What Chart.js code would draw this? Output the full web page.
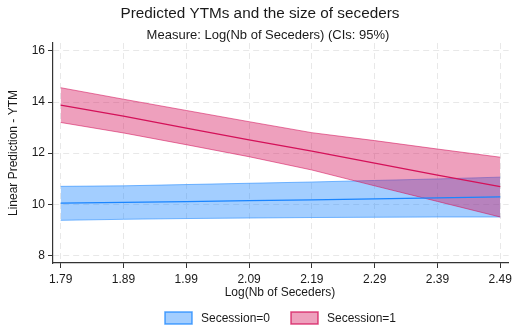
<!DOCTYPE html>
<html>
<head>
<meta charset="utf-8">
<script src="https://cdn.jsdelivr.net/npm/chart.js@4"></script>
<style>
  html, body { margin: 0; padding: 0; background: #fff; }
  #wrap { width: 516px; height: 333px; }
</style>
</head>
<body>
<div id="wrap"><canvas id="chart" width="516" height="333"></canvas></div>
<script>
// Data
const xValues = [1.79, 1.89, 1.99, 2.09, 2.19, 2.29, 2.39, 2.49];
const xTickLabels = ['1.79', '1.89', '1.99', '2.09', '2.19', '2.29', '2.39', '2.49'];
const yTicks = [8, 10, 12, 14, 16];

// Secession=0
const sec0Fit = [10.04, 10.07, 10.10, 10.14, 10.17, 10.21, 10.25, 10.29];
const sec0Upper = [10.70, 10.72, 10.77, 10.82, 10.87, 10.93, 10.99, 11.06];
const sec0Lower = [9.37, 9.41, 9.44, 9.46, 9.48, 9.49, 9.50, 9.50];

// Secession=1
const sec1Fit = [13.88, 13.45, 12.98, 12.52, 12.08, 11.61, 11.14, 10.69];
const sec1Upper = [14.56, 14.11, 13.67, 13.23, 12.80, 12.49, 12.16, 11.84];
const sec1Lower = [13.20, 12.79, 12.33, 11.86, 11.34, 10.72, 10.11, 9.50];

const legendLabels = ['Secession=0', 'Secession=1'];

const BLUE = 'rgb(26, 133, 255)';
const RED = 'rgb(212, 17, 89)';
const FONT = '"Liberation Sans", Arial, Helvetica, sans-serif';
const TEXT = '#1a1a1a';

function pts(ys) {
  return xValues.map((x, i) => ({ x: x, y: ys[i] }));
}

// Titles, axis titles and legend
const textPlugin = {
  id: 'stataText',
  afterDraw(chart) {
    const ctx = chart.ctx;
    ctx.save();
    ctx.fillStyle = TEXT;
    ctx.textBaseline = 'middle';
    ctx.textAlign = 'center';

    ctx.font = '15.3px ' + FONT;
    ctx.fillText('Predicted YTMs and the size of seceders', 260, 14);
    ctx.font = '13px ' + FONT;
    ctx.fillText('Measure: Log(Nb of Seceders) (CIs: 95%)', 268, 35);

    ctx.font = '12px ' + FONT;
    ctx.fillText('Log(Nb of Seceders)', 280, 293);

    ctx.save();
    ctx.translate(14, 153);
    ctx.rotate(-Math.PI / 2);
    ctx.fillText('Linear Prediction - YTM', 0, 0);
    ctx.restore();

    // legend
    const items = [
      { x: 165, fill: 'rgba(26, 133, 255, 0.4)', stroke: 'rgba(26, 133, 255, 0.75)', label: legendLabels[0] },
      { x: 291, fill: 'rgba(212, 17, 89, 0.4)', stroke: 'rgba(212, 17, 89, 0.75)', label: legendLabels[1] }
    ];
    ctx.textAlign = 'left';
    items.forEach(it => {
      ctx.fillStyle = it.fill;
      ctx.fillRect(it.x, 312, 27, 12);
      ctx.strokeStyle = it.stroke;
      ctx.lineWidth = 1.5;
      ctx.strokeRect(it.x, 312, 27, 12);
      ctx.fillStyle = TEXT;
      ctx.fillText(it.label, it.x + 36, 318.5);
    });
    ctx.restore();
  }
};

const bandStyle = (fillColor, edgeColor, order) => ({
  fill: '+1',
  backgroundColor: fillColor,
  borderColor: edgeColor,
  borderWidth: 1,
  pointRadius: 0,
  tension: 0,
  order: order
});

const lineStyle = (color, order) => ({
  fill: false,
  borderColor: color,
  borderWidth: 1.3,
  pointRadius: 0,
  tension: 0,
  order: order
});

const gridOpts = {
  color: '#e8e8e8',
  lineWidth: 1,
  tickColor: '#333',
  tickLength: 5,
  tickBorderDash: []
};

new Chart(document.getElementById('chart'), {
  type: 'line',
  data: {
    datasets: [
      Object.assign({ label: 'sec0 upper', data: pts(sec0Upper) },
        bandStyle('rgba(26, 133, 255, 0.4)', 'rgba(26, 133, 255, 0.55)', 6)),
      { label: 'sec0 lower', data: pts(sec0Lower), fill: false, borderColor: 'rgba(26, 133, 255, 0.55)',
        borderWidth: 1, pointRadius: 0, order: 5 },
      Object.assign({ label: 'sec1 upper', data: pts(sec1Upper) },
        bandStyle('rgba(212, 17, 89, 0.4)', 'rgba(212, 17, 89, 0.55)', 4)),
      { label: 'sec1 lower', data: pts(sec1Lower), fill: false, borderColor: 'rgba(212, 17, 89, 0.55)',
        borderWidth: 1, pointRadius: 0, order: 3 },
      Object.assign({ label: legendLabels[0], data: pts(sec0Fit) }, lineStyle(BLUE, 2)),
      Object.assign({ label: legendLabels[1], data: pts(sec1Fit) }, lineStyle(RED, 1))
    ]
  },
  options: {
    responsive: false,
    animation: false,
    layout: { padding: { left: 0, right: 4, top: 43, bottom: 0 } },
    plugins: {
      legend: { display: false },
      title: { display: false },
      tooltip: { enabled: false }
    },
    scales: {
      x: {
        type: 'linear',
        min: 1.7778,
        max: 2.5034,
        afterFit: (scale) => { scale.height = 70; },
        afterBuildTicks: (scale) => { scale.ticks = xValues.map(v => ({ value: v })); },
        ticks: {
          autoSkip: false,
          maxRotation: 0,
          padding: 4,
          color: TEXT,
          font: { family: FONT, size: 12 },
          callback: (value, index) => xTickLabels[index]
        },
        grid: gridOpts,
        border: { color: '#333', width: 1.2, dash: [6, 4] }
      },
      y: {
        type: 'linear',
        min: 7.7,
        max: 16.31,
        afterFit: (scale) => { scale.width = 53; },
        afterBuildTicks: (scale) => { scale.ticks = yTicks.map(v => ({ value: v })); },
        ticks: {
          autoSkip: false,
          padding: 3,
          color: TEXT,
          font: { family: FONT, size: 12 },
          callback: (value) => String(value)
        },
        grid: gridOpts,
        border: { color: '#333', width: 1.2, dash: [6, 4] }
      }
    }
  },
  plugins: [textPlugin]
});
</script>
</body>
</html>
